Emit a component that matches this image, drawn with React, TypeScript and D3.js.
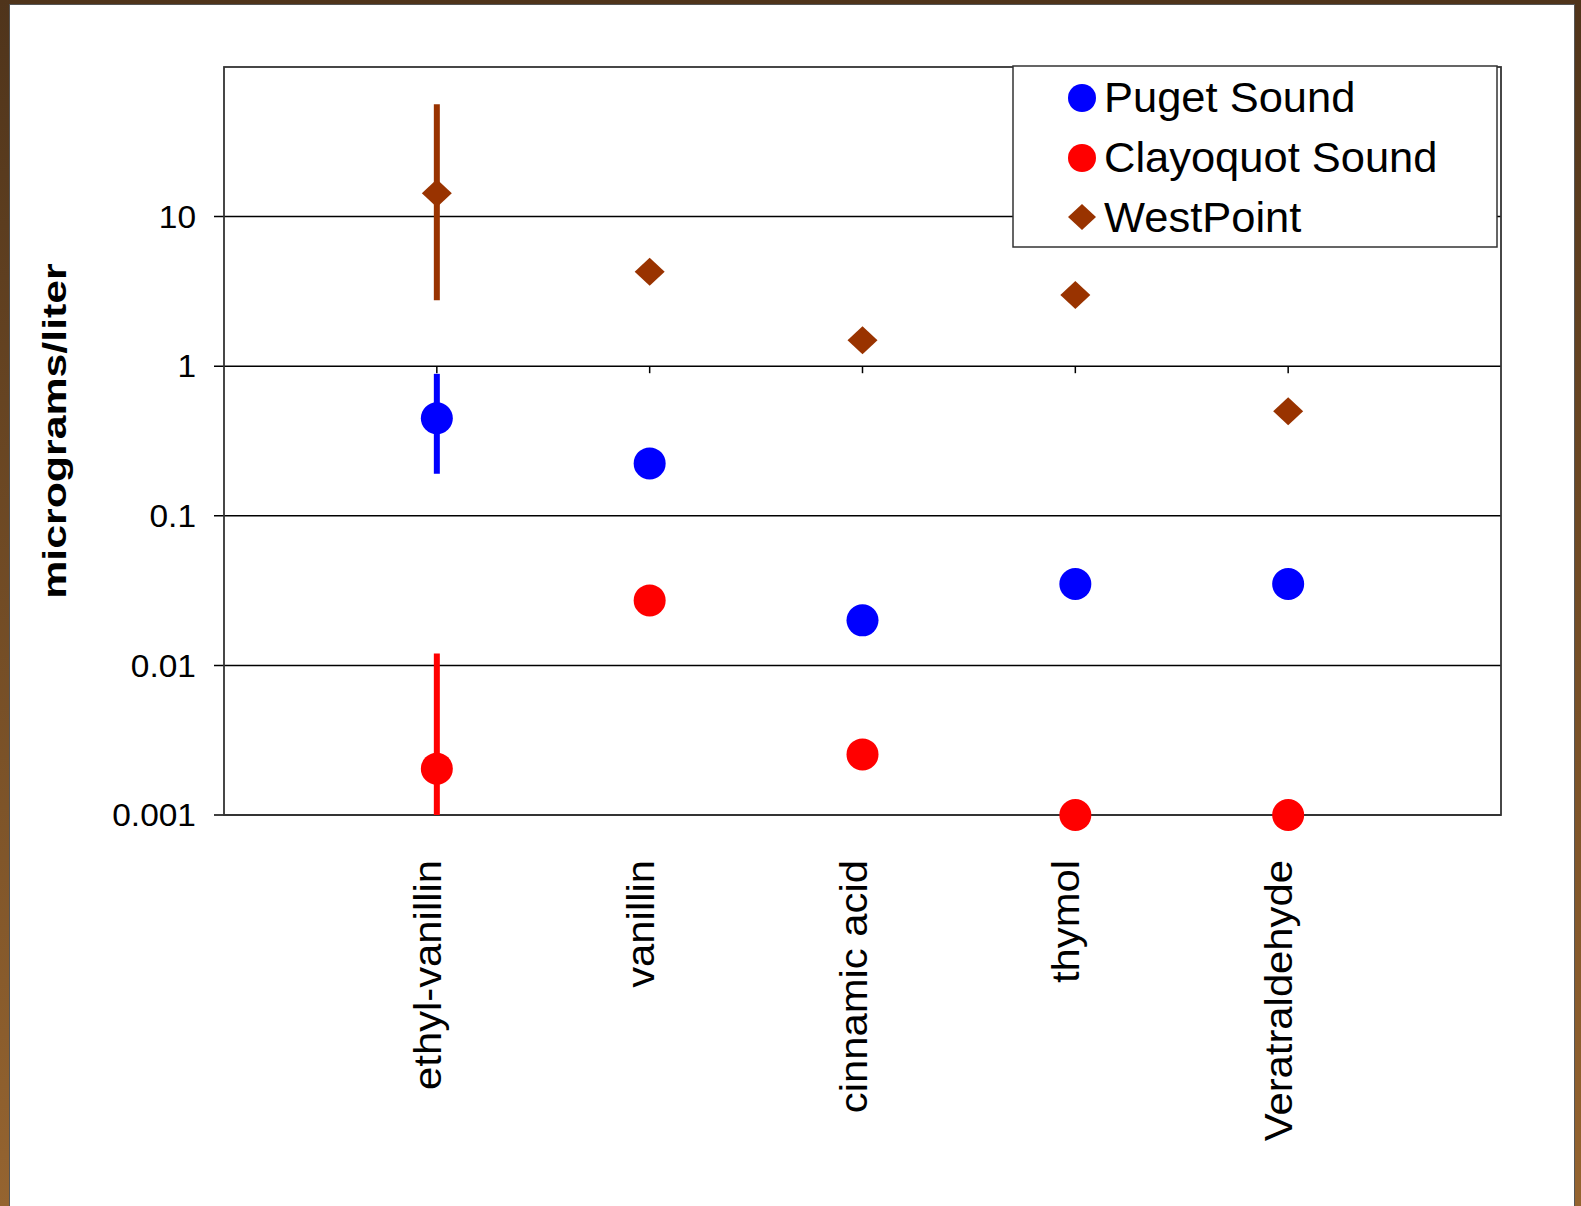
import React from "react";
import * as d3 from "d3";

const categories = ["ethyl-vanillin", "vanillin", "cinnamic acid", "thymol", "Veratraldehyde"];
const yTicks = [0.001, 0.01, 0.1, 1, 10];
const yTickLabels = ["0.001", "0.01", "0.1", "1", "10"];

const pugetSound = [0.449, 0.224, 0.02, 0.035, 0.035];
const clayoquotSound = [0.00204, 0.0272, 0.00254, 0.001, 0.001];
const westPoint = [14.3, 4.28, 1.49, 2.99, 0.5];

// [low, high] error bars, null where there is none
const pugetErr = [[0.191, 0.889], null, null, null, null];
const clayoquotErr = [[0.001, 0.012], null, null, null, null];
const westPointErr = [[2.76, 56.4], null, null, null, null];

const seriesNames = ["Puget Sound", "Clayoquot Sound", "WestPoint"];
const seriesColors = ["#0000ff", "#ff0000", "#993300"];

const W = 1581;
const H = 1206;
const left = 224, right = 1501, top = 67, bottom = 815;

function Diamond({ cx, cy, w, h, fill }) {
  const pts = [[cx, cy - h], [cx + w, cy], [cx, cy + h], [cx - w, cy]].map((p) => p.join(",")).join(" ");
  return <polygon points={pts} fill={fill} />;
}

export default function App() {
  const x = d3.scaleLinear().domain([0, categories.length + 1]).range([left, right]);
  const y = d3.scaleLog().domain([0.001, 100]).range([bottom, top]);

  const series = [
    { values: pugetSound, err: pugetErr, shape: "circle" },
    { values: clayoquotSound, err: clayoquotErr, shape: "circle" },
    { values: westPoint, err: westPointErr, shape: "diamond" },
  ];

  const font = "Arial, 'Liberation Sans', sans-serif";

  return (
    <svg width={W} height={H} style={{ position: "absolute", left: 0, top: 0, display: "block" }} fontFamily={font}>
      <defs>
        <linearGradient id="frame" x1="0" y1="0" x2="0" y2="1">
          <stop offset="0" stopColor="#4f341b" />
          <stop offset="1" stopColor="#956430" />
        </linearGradient>
      </defs>
      <rect x={0} y={0} width={W} height={H} fill="url(#frame)" />
      <rect x={9.5} y={4.5} width={1565} height={H} fill="#fff" stroke="#555" strokeWidth={1} />

      {/* gridlines + left ticks */}
      {yTicks.map((t, i) => (
        <g key={t}>
          <line x1={left - 10} x2={right} y1={y(t)} y2={y(t)} stroke="#000" strokeWidth={1.5} />
          <text transform={`translate(196,${y(t)}) scale(1.08,1)`} dy="0.36em" textAnchor="end" fontSize={31} fill="#000">
            {yTickLabels[i]}
          </text>
        </g>
      ))}

      {/* plot frame */}
      <rect x={left} y={top} width={right - left} height={bottom - top} fill="none" stroke="#333" strokeWidth={1.8} />

      {/* category ticks on the axis crossing at 1 */}
      {categories.map((c, i) => (
        <line key={c} x1={x(i + 1)} x2={x(i + 1)} y1={y(1)} y2={y(1) + 7} stroke="#000" strokeWidth={1.5} />
      ))}

      {/* error bars */}
      {series.map((s, si) =>
        s.err.map((e, i) =>
          e ? (
            <line key={`e${si}-${i}`} x1={x(i + 1)} x2={x(i + 1)} y1={y(e[0])} y2={y(e[1])}
              stroke={seriesColors[si]} strokeWidth={6} />
          ) : null
        )
      )}

      {/* markers */}
      {series.map((s, si) =>
        s.values.map((v, i) =>
          s.shape === "circle" ? (
            <circle key={`m${si}-${i}`} cx={x(i + 1)} cy={y(v)} r={16} fill={seriesColors[si]} />
          ) : (
            <Diamond key={`m${si}-${i}`} cx={x(i + 1)} cy={y(v)} w={15} h={14} fill={seriesColors[si]} />
          )
        )
      )}

      {/* category labels */}
      {categories.map((c, i) => (
        <text key={c} transform={`translate(${x(i + 1) + 4},860) rotate(-90) scale(1.1,1)`}
          textAnchor="end" fontSize={38} fill="#000">
          {c}
        </text>
      ))}

      {/* y axis title */}
      <text transform={`translate(66,431) rotate(-90) scale(1.26,1)`} textAnchor="middle"
        fontSize={34} fontWeight="bold" fill="#000">
        micrograms/liter
      </text>

      {/* legend */}
      <rect x={1013} y={66} width={484} height={181} fill="#fff" stroke="#333" strokeWidth={1.5} />
      {seriesNames.map((n, i) => {
        const by = 112 + i * 60;
        return (
          <g key={n}>
            {i < 2 ? (
              <circle cx={1082} cy={by - 14} r={14} fill={seriesColors[i]} />
            ) : (
              <Diamond cx={1082} cy={by - 15} w={14} h={13} fill={seriesColors[i]} />
            )}
            <text transform={`translate(1104,${by}) scale(1.035,1)`} fontSize={42} fill="#000">{n}</text>
          </g>
        );
      })}
    </svg>
  );
}
